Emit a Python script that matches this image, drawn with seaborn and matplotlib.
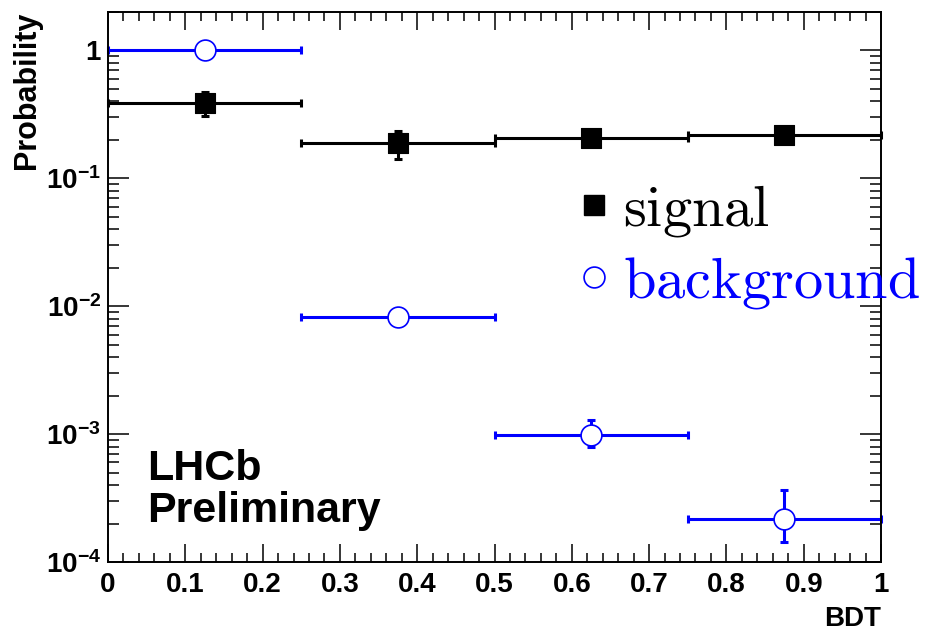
import numpy as np
import pandas as pd
import matplotlib
matplotlib.use("Agg")
import matplotlib.pyplot as plt
import seaborn as sns
from matplotlib.lines import Line2D
from matplotlib.font_manager import FontProperties
from matplotlib.ticker import FixedLocator, LogLocator, NullFormatter, FuncFormatter, MultipleLocator

# ---- data ----
bin_edges = [0.0, 0.25, 0.5, 0.75, 1.0]
bdt_centers = [0.125, 0.375, 0.625, 0.875]
signal_prob = [0.39, 0.189, 0.206, 0.219]
signal_err = [0.08, 0.047, 0.02, 0.02]
background_prob = [1.0, 0.0082, 0.00098, 0.000216]
background_err_lo = [0.01, 0.0006, 0.00018, 0.000073]
background_err_hi = [0.01, 0.0006, 0.00032, 0.000149]
series_labels = ["signal", "background"]
x_ticks = [0.0, 0.1, 0.2, 0.3, 0.4, 0.5, 0.6, 0.7, 0.8, 0.9, 1.0]
y_decades = [1e-4, 1e-3, 1e-2, 1e-1, 1.0]
y_tick_labels = ["10$^{-4}$", "10$^{-3}$", "10$^{-2}$", "10$^{-1}$", "1"]

sns.set_style("ticks")
plt.rcParams["font.family"] = ["Liberation Sans", "DejaVu Sans"]
plt.rcParams["font.weight"] = "bold"
plt.rcParams["mathtext.fontset"] = "custom"
plt.rcParams["mathtext.rm"] = "Liberation Sans:bold"
plt.rcParams["mathtext.bf"] = "Liberation Sans:bold"
plt.rcParams["mathtext.it"] = "Liberation Sans:bold"
for key in ["text.color", "axes.labelcolor", "xtick.color", "ytick.color", "axes.edgecolor"]:
    plt.rcParams[key] = "black"

half_width = np.diff(bin_edges) / 2.0

sig_df = pd.DataFrame({"BDT": bdt_centers, "prob": signal_prob})
bkg_df = pd.DataFrame({"BDT": bdt_centers, "prob": background_prob})

fig = plt.figure(figsize=(9.3, 6.31), dpi=100)
ax = fig.add_axes([108 / 930, (631 - 562) / 631, (881 - 108) / 930, (562 - 12) / 631])

BLUE = (0, 0, 1)

ax.errorbar(bdt_centers, signal_prob, xerr=half_width, yerr=signal_err, fmt="none",
            ecolor="black", elinewidth=2.2, capsize=3, capthick=2.2, zorder=2, clip_on=False)
ax.errorbar(bdt_centers, background_prob, xerr=half_width,
            yerr=[background_err_lo, background_err_hi], fmt="none",
            ecolor=BLUE, elinewidth=2.2, capsize=3, capthick=2.2, zorder=2, clip_on=False)

sns.scatterplot(data=sig_df, x="BDT", y="prob", marker="s", s=15**2, color="black",
                edgecolor="black", linewidth=0.8, zorder=3, ax=ax, legend=False, clip_on=False)
sns.scatterplot(data=bkg_df, x="BDT", y="prob", marker="o", s=15**2, color="white",
                edgecolor=BLUE, linewidth=1.2, zorder=3, ax=ax, legend=False, clip_on=False)

ax.set_yscale("log")
ax.set_xlim(0, 1)
ax.set_ylim(1e-4, 2.0)

ax.xaxis.set_major_locator(FixedLocator(x_ticks))
ax.xaxis.set_major_formatter(FuncFormatter(lambda v, p: "%g" % v))
ax.xaxis.set_minor_locator(MultipleLocator(0.02))
ax.yaxis.set_major_locator(FixedLocator(y_decades))
ax.yaxis.set_major_formatter(FuncFormatter(
    lambda v, p: y_tick_labels[y_decades.index(min(y_decades, key=lambda d: abs(np.log10(d) - np.log10(v))))]))
ax.yaxis.set_minor_locator(LogLocator(base=10, subs=np.arange(2, 10), numticks=20))
ax.yaxis.set_minor_formatter(NullFormatter())

ax.tick_params(which="both", direction="in", top=True, right=True, colors="black", width=1.1)
ax.tick_params(axis="x", which="major", length=13, pad=7, labelsize=20)
ax.tick_params(axis="x", which="minor", length=6.5)
ax.tick_params(axis="y", which="major", length=15, pad=5, labelsize=20)
ax.tick_params(axis="y", which="minor", length=8)
for sp in ax.spines.values():
    sp.set_linewidth(1.4)
    sp.set_color("black")

ax.set_xlabel("BDT", fontsize=20, fontweight="bold", loc="right")
ax.xaxis.set_label_coords(1.0, -0.08)
ax.set_ylabel("Probability", fontsize=22, fontweight="bold", loc="top")
ax.yaxis.set_label_coords(-0.085, 1.0)

ax.text(0.0505, 0.0727, "LHCb\nPreliminary", transform=ax.transAxes, fontsize=31,
        fontweight="bold", va="baseline", ha="left", linespacing=1.08)

handles = [
    Line2D([], [], linestyle="none", marker="s", markersize=15, markerfacecolor="black",
           markeredgecolor="black"),
    Line2D([], [], linestyle="none", marker="o", markersize=15, markerfacecolor="white",
           markeredgecolor=BLUE, markeredgewidth=1.2),
]
leg_prop = FontProperties(size=42, math_fontfamily="cm")
leg = ax.legend(handles, [r"$\mathrm{%s}$" % s for s in series_labels], prop=leg_prop,
                loc="upper left", bbox_to_anchor=(0.607, 0.689), frameon=False,
                borderpad=0, borderaxespad=0, handlelength=0.58, handletextpad=0.2,
                labelspacing=0.28, labelcolor=["black", BLUE])

fig.savefig("out.png", dpi=100)
